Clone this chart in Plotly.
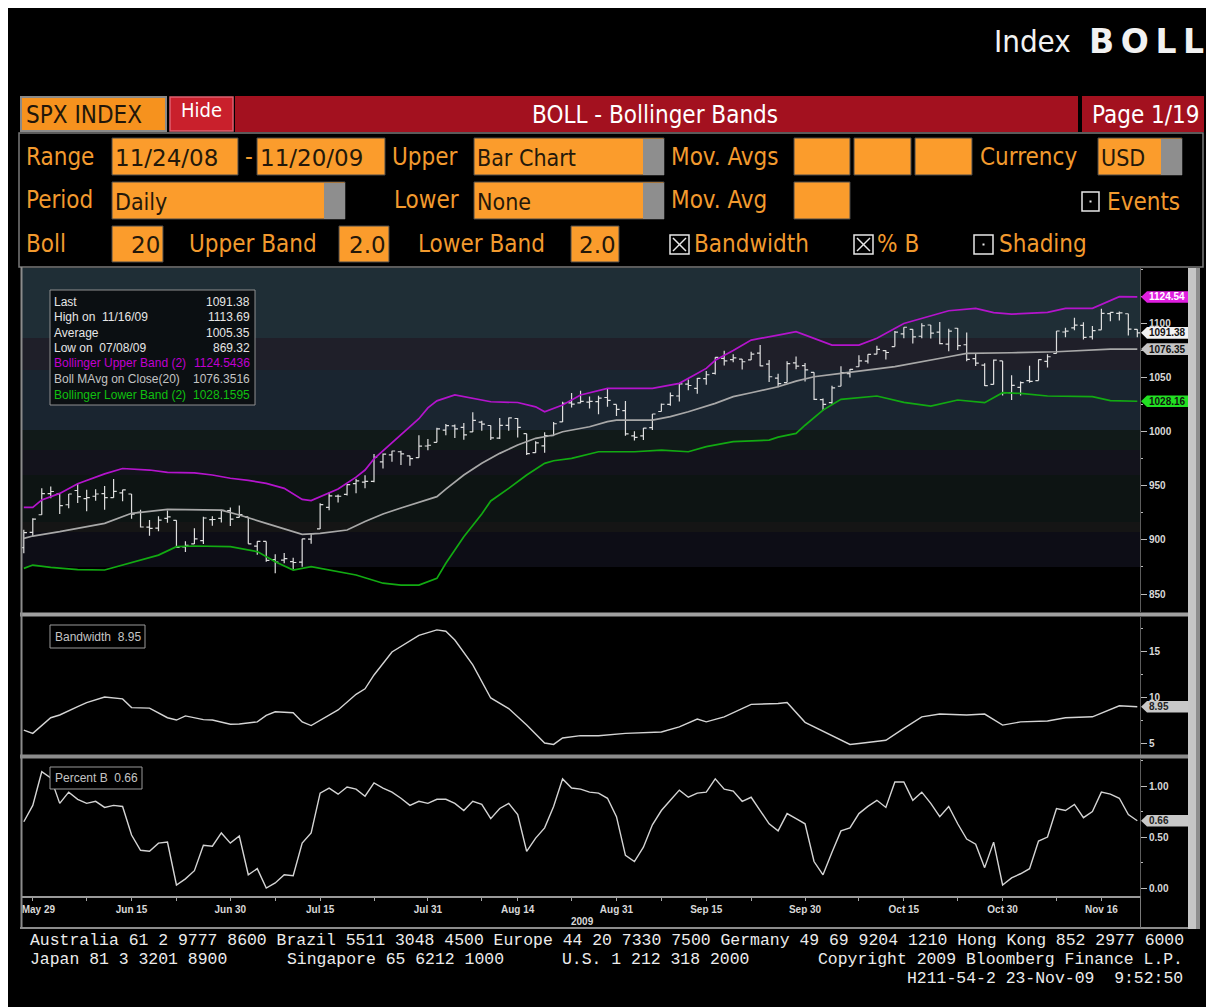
import plotly.graph_objects as go
import pandas as pd

# The page is shown with the browser's default 8px body margin, so the figure
# itself starts at (8, 8) of the 1214x1007 window.
OFF = 8
W, H = 1214 - OFF, 1007 - OFF

# ---------------- data ----------------
HOLIDAYS = ["2009-07-03", "2009-09-07"]
DATES = [d for d in pd.bdate_range("2009-05-28", "2009-11-20").strftime("%Y-%m-%d") if d not in HOLIDAYS]
BASE_DATE = "2009-05-29"

OPEN = [892.96, 907.02,
        923.26, 942.87, 942.51, 932.49, 945.67, 938.12, 940.35, 942.73, 939.04, 943.44, 942.45, 925.60, 911.89, 910.86, 919.96, 918.13, 893.46, 896.31, 899.45, 918.84, 919.86, 927.15,
        920.82, 921.24, 894.27, 898.60, 881.90, 881.28, 880.03, 879.57, 900.77, 910.15, 930.17, 940.56, 942.07, 951.97, 953.40, 954.07, 972.16, 978.63, 981.48, 977.66, 976.01, 986.80,
        990.22, 1001.41, 1005.41, 1004.06, 999.83, 1008.89, 1005.77, 994.00, 1005.86, 1012.23, 998.18, 980.62, 986.88, 996.41, 1009.06, 1026.59, 1026.63, 1027.35, 1027.81, 1031.62, 1025.21,
        1019.52, 996.07, 996.12, 1003.84, 1018.67, 1025.36, 1032.99, 1043.92, 1040.15, 1049.03, 1053.99, 1067.87, 1066.60, 1067.14, 1066.35, 1072.69, 1062.56, 1049.48, 1045.38, 1063.69, 1061.02,
        1054.91, 1029.71, 1026.87, 1042.02, 1053.65, 1060.06, 1065.28, 1071.63, 1074.96, 1078.68, 1090.36, 1094.67, 1088.22, 1098.64, 1092.00, 1080.96, 1095.62, 1080.36, 1067.54, 1061.51, 1043.69, 1065.41,
        1036.18, 1040.92, 1047.30, 1047.30, 1064.95, 1072.31, 1092.16, 1096.04, 1098.31, 1087.59, 1094.13, 1109.22, 1109.44, 1109.03, 1094.66]
HIGH = [909.45, 920.02,
        947.77, 949.38, 942.51, 942.47, 951.69, 946.33, 946.92, 949.77, 956.23, 946.30, 942.45, 928.00, 918.44, 921.93, 927.09, 918.13, 898.69, 910.85, 921.42, 922.00, 927.99, 930.01,
        931.92, 921.24, 898.72, 898.60, 886.80, 887.86, 883.57, 901.05, 905.84, 933.95, 943.96, 941.89, 951.62, 956.53, 959.83, 979.42, 979.79, 982.49, 982.35, 977.76, 996.68, 993.18,
        1003.61, 1007.12, 1006.64, 1008.00, 1018.00, 1010.12, 1005.77, 1012.78, 1013.14, 1012.60, 998.18, 991.20, 999.61, 1008.92, 1027.59, 1035.82, 1037.75, 1032.47, 1033.33, 1039.47, 1025.21,
        1028.45, 1000.34, 1003.43, 1016.48, 1026.07, 1036.34, 1044.14, 1048.18, 1049.74, 1056.04, 1068.76, 1074.77, 1071.52, 1067.28, 1073.81, 1080.15, 1066.29, 1053.47, 1065.13, 1069.62, 1063.40,
        1054.91, 1030.60, 1042.58, 1060.55, 1058.02, 1070.67, 1071.51, 1079.46, 1075.30, 1093.17, 1096.56, 1094.67, 1100.17, 1098.64, 1101.36, 1095.21, 1095.83, 1091.75, 1072.48, 1063.26, 1066.83, 1065.41,
        1052.18, 1046.36, 1061.00, 1066.65, 1071.48, 1093.19, 1096.09, 1105.37, 1101.17, 1097.63, 1113.69, 1110.32, 1111.10, 1109.03, 1094.66]
LOW = [887.60, 903.56,
       923.26, 938.46, 923.85, 929.32, 934.13, 926.44, 936.15, 927.97, 939.04, 935.66, 919.65, 911.60, 903.78, 907.94, 915.80, 893.04, 888.86, 896.31, 896.27, 913.03, 916.18, 912.86,
       920.82, 896.42, 886.36, 879.93, 869.32, 878.45, 872.81, 875.32, 896.50, 910.15, 927.45, 934.65, 940.99, 943.22, 947.75, 953.27, 965.95, 972.29, 969.35, 968.65, 976.01, 982.85,
       990.22, 996.68, 994.31, 992.49, 999.83, 1000.99, 992.40, 993.36, 1000.82, 994.60, 978.51, 980.62, 980.62, 996.39, 1009.06, 1022.48, 1026.21, 1021.57, 1016.20, 1023.13, 1014.62,
       996.28, 991.97, 992.25, 1001.65, 1018.67, 1023.97, 1028.04, 1038.40, 1035.00, 1043.42, 1052.87, 1061.20, 1064.27, 1057.46, 1066.35, 1060.39, 1045.85, 1041.17, 1045.38, 1057.83, 1046.47,
       1029.41, 1019.95, 1025.92, 1042.02, 1050.10, 1060.06, 1063.00, 1071.63, 1066.71, 1078.68, 1086.42, 1081.53, 1086.48, 1086.16, 1080.77, 1074.31, 1075.55, 1065.21, 1060.62, 1042.25, 1043.69, 1033.38,
       1029.38, 1033.38, 1045.15, 1047.30, 1059.32, 1072.31, 1087.40, 1093.81, 1085.13, 1085.33, 1094.13, 1102.19, 1102.70, 1088.93, 1087.28]
CLOSE = [906.83, 919.14,
         942.87, 944.74, 931.76, 942.46, 940.09, 939.14, 942.43, 939.15, 944.89, 946.21, 923.72, 911.97, 910.71, 918.37, 921.23, 893.04, 895.10, 900.94, 920.26, 918.90, 927.23, 919.32,
         923.33, 896.42, 898.72, 881.03, 879.56, 882.68, 879.13, 901.05, 905.84, 932.68, 940.74, 940.38, 951.13, 954.58, 954.07, 976.29, 979.26, 982.18, 979.62, 975.15, 986.75, 987.48,
         1002.63, 1005.65, 1002.72, 997.08, 1010.48, 1007.10, 994.35, 1005.81, 1012.73, 1004.09, 979.73, 989.67, 996.46, 1007.37, 1026.13, 1025.57, 1028.00, 1028.12, 1030.98, 1028.93, 1020.62,
         998.04, 994.75, 1003.24, 1016.40, 1025.39, 1033.37, 1044.14, 1042.73, 1049.34, 1052.63, 1068.76, 1065.49, 1068.30, 1064.66, 1071.66, 1060.87, 1050.78, 1044.38, 1062.98, 1060.61, 1057.08,
         1029.85, 1025.21, 1040.46, 1054.72, 1057.58, 1065.48, 1071.49, 1076.19, 1073.19, 1092.02, 1096.56, 1087.68, 1097.91, 1091.06, 1081.40, 1092.91, 1079.60, 1066.95, 1063.41, 1042.63, 1066.11, 1036.19,
         1042.88, 1045.41, 1046.50, 1066.63, 1069.30, 1093.08, 1093.01, 1098.51, 1087.24, 1093.48, 1109.30, 1110.32, 1109.80, 1094.90, 1091.38]

# Bollinger band lines: trading-day number (0 = 2009-05-29) and value
UPPER_DAY = [-1, 0, 1, 3, 5, 8, 10, 13, 15, 18, 20, 22, 24, 26, 28, 30, 31, 32, 34, 36, 37, 38, 40, 41, 43, 44, 45, 47, 49, 51, 54, 56, 57, 59, 61, 64, 69, 72, 75, 76, 78, 80, 83, 85, 87, 89, 92, 94, 97, 100, 102, 105, 107, 109, 113, 115, 118, 121, 123]
UPPER_VAL = [930.0, 930.0, 937.0, 943.0, 952.0, 961.0, 966.0, 964.6, 962.5, 962.0, 960.0, 957.0, 955.0, 952.3, 947.7, 937.5, 936.3, 940.0, 947.0, 958.0, 964.6, 975.0, 990.0, 997.0, 1012.0, 1022.0, 1028.5, 1034.0, 1031.0, 1027.7, 1027.0, 1023.0, 1018.5, 1024.7, 1034.0, 1040.0, 1040.0, 1044.7, 1058.5, 1066.0, 1075.0, 1084.7, 1089.3, 1092.4, 1086.3, 1080.1, 1080.1, 1086.3, 1100.0, 1107.0, 1111.8, 1114.0, 1110.0, 1108.7, 1110.3, 1114.0, 1114.0, 1124.8, 1124.54]
MAVG_DAY = [-1, 0, 3, 8, 11, 15, 21, 23, 26, 30, 32, 35, 37, 39, 41, 43, 45, 46, 48, 50, 52, 54, 56, 58, 59, 62, 64, 65, 69, 71, 73, 76, 78, 80, 83, 85, 87, 90, 96, 102, 104, 109, 114, 120, 123]
MAVG_VAL = [901.5, 903.6, 907.6, 915.3, 924.6, 928.3, 927.6, 923.0, 915.3, 905.2, 906.1, 909.2, 917.0, 924.0, 929.5, 935.0, 940.0, 947.0, 960.0, 970.8, 980.0, 987.7, 993.9, 997.0, 1000.0, 1004.6, 1009.3, 1010.8, 1010.8, 1014.0, 1018.5, 1026.2, 1032.4, 1036.0, 1041.6, 1046.8, 1050.8, 1053.9, 1060.1, 1069.3, 1072.4, 1073.0, 1073.9, 1076.4, 1076.35]
LOWER_DAY = [-1, 0, 2, 5, 8, 10, 14, 16, 18, 22, 25, 27, 29, 31, 33, 36, 39, 41, 43, 45, 46, 48, 50, 51, 53, 55, 57, 58, 60, 63, 67, 70, 73, 75, 78, 82, 83, 85, 86, 88, 90, 94, 97, 100, 103, 106, 108, 110, 113, 118, 120, 123]
LOWER_VAL = [873.7, 876.8, 874.7, 872.5, 872.2, 876.8, 886.0, 893.8, 894.4, 893.8, 889.2, 879.9, 872.2, 875.3, 872.0, 867.6, 860.0, 858.3, 858.3, 864.5, 878.4, 903.0, 924.0, 936.0, 947.7, 960.0, 970.8, 973.2, 975.4, 981.5, 981.5, 983.0, 981.5, 986.2, 990.8, 992.3, 995.0, 998.5, 1006.0, 1020.0, 1029.9, 1033.0, 1027.1, 1023.7, 1029.3, 1026.8, 1036.1, 1035.4, 1033.0, 1032.4, 1028.7, 1028.16]

# Bandwidth panel
BW_DAY = [-1, 0, 2, 3, 5, 6, 8, 10, 11, 13, 15, 16, 17, 19, 20, 22, 23, 25, 26, 27, 29, 30, 31, 34, 36, 37, 38, 40, 43, 45, 46, 47, 49, 51, 53, 55, 57, 58, 59, 61, 63, 66, 70, 72, 74, 75, 77, 80, 83, 84, 86, 89, 91, 92, 95, 97, 99, 101, 104, 106, 108, 110, 113, 115, 118, 121, 123]
BW_VAL = [6.4, 6.05, 7.75, 8.05, 8.95, 9.4, 10.0, 9.8, 8.85, 8.8, 7.75, 7.5, 7.95, 7.55, 7.5, 7.05, 7.07, 7.3, 8.0, 8.4, 8.3, 7.3, 6.9, 8.6, 10.3, 10.9, 12.4, 14.9, 16.7, 17.3, 17.15, 16.2, 13.5, 9.9, 8.75, 6.95, 5.0, 4.85, 5.55, 5.8, 5.8, 6.05, 6.2, 6.75, 7.6, 7.3, 7.85, 9.2, 9.3, 9.4, 7.25, 5.8, 4.85, 4.95, 5.3, 6.6, 7.85, 8.15, 8.05, 8.15, 6.95, 7.3, 7.4, 7.75, 7.85, 9.05, 8.95]

# Percent B, one value per trading day (2009-05-28 .. 2009-11-20)
PCTB = [0.65, 0.81, 1.14, 1.08, 0.83, 0.94, 0.87, 0.83, 0.85, 0.79, 0.81, 0.80, 0.52, 0.37, 0.36, 0.44, 0.45, 0.03, 0.09, 0.17, 0.42, 0.41, 0.54, 0.44, 0.51,
        0.13, 0.19, 0.00, 0.05, 0.13, 0.12, 0.44, 0.54, 0.93, 0.98, 0.92, 0.99, 0.97, 0.90, 1.03, 0.98, 0.94, 0.88, 0.81, 0.85, 0.83,
        0.87, 0.87, 0.83, 0.76, 0.85, 0.82, 0.68, 0.78, 0.83, 0.72, 0.36, 0.49, 0.59, 0.80, 1.07, 0.98, 0.97, 0.94, 0.93, 0.88, 0.70,
        0.32, 0.26, 0.40, 0.62, 0.76, 0.86, 0.96, 0.89, 0.93, 0.94, 1.07, 0.97, 0.95, 0.85, 0.89, 0.76, 0.63, 0.56, 0.73, 0.68, 0.63,
        0.26, 0.13, 0.35, 0.56, 0.59, 0.73, 0.80, 0.86, 0.79, 1.04, 1.04, 0.86, 0.94, 0.83, 0.70, 0.80, 0.63, 0.48, 0.43, 0.20, 0.45, 0.03,
        0.10, 0.14, 0.19, 0.46, 0.50, 0.78, 0.76, 0.82, 0.69, 0.75, 0.94, 0.92, 0.88, 0.72, 0.66]

XTICK_DATES = ["2009-05-29", "2009-06-15", "2009-06-30", "2009-07-15", "2009-07-31", "2009-08-14",
               "2009-08-31", "2009-09-15", "2009-09-30", "2009-10-15", "2009-10-30", "2009-11-16"]
XTICK_TEXT = ["\u00a0\u00a0\u00a0\u00a0May 29", "Jun 15", "Jun 30", "Jul 15", "Jul 31", "Aug 14",
              "Aug 31", "Sep 15", "Sep 30", "Oct 15", "Oct 30", "Nov 16"]
XMINOR_DATES = ["2009-06-08", "2009-06-22", "2009-07-08", "2009-07-23", "2009-08-10", "2009-08-24",
                "2009-09-08", "2009-09-22", "2009-10-08", "2009-10-23", "2009-11-09"]
MAIN_TICKS = [850, 900, 950, 1000, 1050, 1100]
BW_TICKS = [5, 10, 15]
PB_TICKS = [0.0, 0.5, 1.0]

INFO_LABELS = ["Last", "High on\u00a0\u00a011/16/09", "Average", "Low on\u00a0\u00a007/08/09",
               "Bollinger Upper Band (2)", "Boll MAvg on Close(20)", "Bollinger Lower Band (2)"]
INFO_VALUES = ["1091.38", "1113.69", "1005.35", "869.32", "1124.5436", "1076.3516", "1028.1595"]

FOOTER_1 = "Australia 61 2 9777 8600 Brazil 5511 3048 4500 Europe 44 20 7330 7500 Germany 49 69 9204 1210 Hong Kong 852 2977 6000"
FOOTER_2 = ["Japan 81 3 3201 8900", "Singapore 65 6212 1000", "U.S. 1 212 318 2000", "Copyright 2009 Bloomberg Finance L.P."]
FOOTER_3 = "H211-54-2 23-Nov-09\u00a0\u00a09:52:50"

# ---------------- helpers ----------------
base = DATES.index(BASE_DATE)
DAY = [i - base for i in range(len(DATES))]
def day_of(d):
    return DATES.index(d) - base

HDR = "DejaVu Sans Condensed, DejaVu Sans, sans-serif"
DJ = "DejaVu Sans, sans-serif"
ARIAL = "Liberation Sans, Arial, sans-serif"
MONO = "Liberation Mono, DejaVu Sans Mono, monospace"

ORANGE_TXT = "#f29a2e"
FIELD = "#fb9c2c"
FIELD_TXT = "#24180a"

shapes, annos = [], []
def X(px):   # screen pixel -> paper
    return (px - OFF) / W
def Y(py):
    return 1 - (py - OFF) / H

def rect(x0, y0, x1, y1, fill, line=None, lw=0, layer="above"):
    shapes.append(dict(type="rect", xref="paper", yref="paper", x0=X(x0), x1=X(x1), y0=Y(y1), y1=Y(y0),
                       fillcolor=fill, line=dict(color=line if line else fill, width=lw), layer=layer))

def seg(x0, y0, x1, y1, color, w, layer="above"):
    shapes.append(dict(type="line", xref="paper", yref="paper", x0=X(x0), x1=X(x1), y0=Y(y0), y1=Y(y1),
                       line=dict(color=color, width=w), layer=layer))

def txt(x, y, s, size, color, family, anchor="left", weight="normal"):
    annos.append(dict(xref="paper", yref="paper", x=X(x), y=Y(y), text=s, showarrow=False,
                      xanchor=anchor, yanchor="middle", borderpad=0,
                      font=dict(size=size, color=color, family=family, weight=weight)))

def field(x0, x1, y0, y1, s=None, right=False, gray=None, fam=HDR, size=23):
    rect(x0, y0, x1, y1, FIELD, "#4a4a4a", 1)
    if gray:
        rect(gray, y0 + 1, x1, y1, "#8e8e8e")
    if s:
        if right:
            txt(x1 - 2, (y0 + y1) / 2 + 1, s, size, FIELD_TXT, fam, anchor="right")
        else:
            txt(x0 + 2, (y0 + y1) / 2 + 1, s, size, FIELD_TXT, fam)

def checkbox(x0, y0, x1, y1, checked):
    rect(x0, y0, x1, y1, "black", "#e8e8e8", 1.5)
    if checked:
        seg(x0 + 3, y0 + 3, x1 - 3, y1 - 3, "#e8e8e8", 1.5)
        seg(x1 - 3, y0 + 3, x0 + 3, y1 - 3, "#e8e8e8", 1.5)
    else:
        cx, cy = (x0 + x1) / 2, (y0 + y1) / 2
        rect(cx - 1, cy - 1, cx + 1, cy + 1, "#e8e8e8")

def tag(yref, v, label, bg, fg, upx):
    h = 5.8 / upx
    path = (f"M {X(1141)},{v} L {X(1147)},{v + h} L {X(1188)},{v + h} "
            f"L {X(1188)},{v - h} L {X(1147)},{v - h} Z")
    shapes.append(dict(type="path", xref="paper", yref=yref, path=path, fillcolor=bg,
                       line=dict(color=bg, width=0), layer="above"))
    annos.append(dict(xref="paper", yref=yref, x=X(1148), y=v, text=label, showarrow=False,
                      xanchor="left", yanchor="middle", borderpad=0,
                      font=dict(size=10, color=fg, family=ARIAL, weight="bold")))

# ---------------- page chrome ----------------
txt(1072, 41, "Index", 31, "#f2f2f2", HDR, anchor="right")
txt(1205, 41, "B\u2009O\u2009L\u2009L", 33, "#f2f2f2", DJ, anchor="right", weight="bold")

# red title row
rect(235, 96, 1078, 132, "#a3111f")
rect(1082, 96, 1204, 132, "#a3111f")
rect(21, 97, 166, 131, "#f6921e", "#8a8a8a", 2)
txt(25, 115, "SPX INDEX", 24, "#22160a", HDR)
rect(170, 97, 233, 131, "#c9202c", "#e06070", 1.5)
txt(201, 110, "Hide", 20, "white", HDR, anchor="center")
txt(655, 115, "BOLL - Bollinger Bands", 24, "white", HDR, anchor="center")
txt(1201, 115, "Page 1/19", 24, "white", HDR, anchor="right")

# settings panel
rect(19, 133, 1203, 267, "black", "#7a7a7a", 1.5)
r1, r2, r3 = 157, 200, 244
txt(25, r1, "Range", 24, ORANGE_TXT, HDR)
field(112, 238, 138, 175, "11/24/08", fam=DJ, size=23)
txt(244, r1, "-", 24, ORANGE_TXT, HDR)
field(257, 385, 138, 175, "11/20/09", fam=DJ, size=23)
txt(391, r1, "Upper", 24, ORANGE_TXT, HDR)
field(474, 664, 138, 175, "Bar Chart", gray=643)
txt(670, r1, "Mov. Avgs", 24, ORANGE_TXT, HDR)
field(794, 850, 138, 175)
field(854, 911, 138, 175)
field(915, 972, 138, 175)
txt(979, r1, "Currency", 24, ORANGE_TXT, HDR)
field(1098, 1182, 138, 175, "USD", gray=1161)

txt(25, r2, "Period", 24, ORANGE_TXT, HDR)
field(112, 345, 182, 219, "Daily", gray=324)
txt(393, r2, "Lower", 24, ORANGE_TXT, HDR)
field(474, 664, 182, 219, "None", gray=643)
txt(670, r2, "Mov. Avg", 24, ORANGE_TXT, HDR)
field(794, 850, 182, 219)
checkbox(1082, 192, 1099, 211, False)
txt(1106, r2 + 2, "Events", 24, ORANGE_TXT, HDR)

txt(25, r3, "Boll", 24, ORANGE_TXT, HDR)
field(112, 163, 226, 262, "20", right=True, fam=DJ)
txt(188, r3, "Upper Band", 24, ORANGE_TXT, HDR)
field(339, 389, 226, 262, "2.0", right=True, fam=DJ)
txt(417, r3, "Lower Band", 24, ORANGE_TXT, HDR)
field(571, 619, 226, 262, "2.0", right=True, fam=DJ)
checkbox(670, 235, 689, 254, True)
txt(693, r3, "Bandwidth", 24, ORANGE_TXT, HDR)
checkbox(854, 235, 873, 254, True)
txt(876, r3, "% B", 24, ORANGE_TXT, HDR)
checkbox(974, 235, 993, 254, False)
txt(998, r3, "Shading", 24, ORANGE_TXT, HDR)

# ---------------- chart frame / backgrounds ----------------
BANDS = [(268, 338, "#1f2e36"), (338, 370, "#1f1f29"), (370, 430, "#1a2530"), (430, 450, "#111a19"),
         (450, 475, "#13131c"), (475, 522, "#0d1413"), (522, 532, "#151515"), (532, 567, "#0d0d16"),
         (567, 612, "#000000")]
for y0, y1, c in BANDS:
    rect(22, y0, 1140, y1, c, layer="below")

rect(20, 612.5, 1188, 616.5, "#a0a0a0")
rect(20, 754.5, 1188, 758.5, "#8c8c8c")
seg(21.5, 267, 21.5, 928, "#8c8c8c", 2)
seg(20, 928, 1188, 928, "#8c8c8c", 2)
seg(1140.5, 896, 1140.5, 928, "#7a7a7a", 1)
rect(1188, 268, 1200, 929, "#c6c6c6")
rect(1196, 268, 1200, 929, "#8e8e8e")

# info boxes
rect(50, 290, 255, 405, "#0b0f12", "#8f8f8f", 1)
info_colors = ["#e6e6e6", "#e6e6e6", "#e6e6e6", "#e6e6e6", "#c000d0", "#c4c4c4", "#10c010"]
for k, (lab, val, col) in enumerate(zip(INFO_LABELS, INFO_VALUES, info_colors)):
    yy = 301.5 + k * 15.5
    txt(53, yy, lab, 12, col, ARIAL)
    txt(251, yy, val, 12, col, ARIAL, anchor="right")

rect(50, 625, 145, 648, "black", "#9a9a9a", 1)
txt(54, 636.5, f"Bandwidth\u00a0\u00a0{BW_VAL[-1]:.2f}", 12, "#c4c4c4", ARIAL)
rect(50, 767, 142, 789, "black", "#9a9a9a", 1)
txt(54, 778, f"Percent B\u00a0\u00a0{PCTB[-1]:.2f}", 12, "#c4c4c4", ARIAL)

txt(582, 921, "2009", 10, "#d8d8d8", ARIAL, anchor="center", weight="bold")

# footer
FS = 16.45
txt(29, 940, FOOTER_1, FS, "#ececec", MONO)
txt(29, 959, FOOTER_2[0], FS, "#ececec", MONO)
txt(286, 959, FOOTER_2[1], FS, "#ececec", MONO)
txt(561, 959, FOOTER_2[2], FS, "#ececec", MONO)
txt(1184, 959, FOOTER_2[3], FS, "#ececec", MONO, anchor="right")
txt(1184, 978, FOOTER_3, FS, "#ececec", MONO, anchor="right")

# ---------------- axes ranges ----------------
MAIN_RANGE = [833.4, 1151.3]
BW_RANGE = [3.7, 18.7]
PB_RANGE = [-0.078, 1.265]
MAIN_DOM = [Y(612), Y(268)]
BW_DOM = [Y(755), Y(617)]
PB_DOM = [Y(896), Y(759)]
upx_main = (612 - 268) / (MAIN_RANGE[1] - MAIN_RANGE[0])
upx_bw = (755 - 617) / (BW_RANGE[1] - BW_RANGE[0])
upx_pb = (896 - 759) / (PB_RANGE[1] - PB_RANGE[0])

# right-hand value tags
tag("y", UPPER_VAL[-1], f"{UPPER_VAL[-1]:.2f}", "#e01ee0", "white", upx_main)
tag("y", CLOSE[-1], f"{CLOSE[-1]:.2f}", "#f2f2f2", "#111111", upx_main)
tag("y", MAVG_VAL[-1], f"{MAVG_VAL[-1]:.2f}", "#c4c4c4", "#111111", upx_main)
tag("y", LOWER_VAL[-1], f"{LOWER_VAL[-1]:.2f}", "#22e022", "#111111", upx_main)
tag("y2", BW_VAL[-1], f"{BW_VAL[-1]:.2f}", "#c8c8c8", "#222222", upx_bw)
tag("y3", PCTB[-1], f"{PCTB[-1]:.2f}", "#c8c8c8", "#222222", upx_pb)

# ---------------- traces ----------------
fig = go.Figure()
fig.add_trace(go.Ohlc(x=DAY, open=OPEN, high=HIGH, low=LOW, close=CLOSE,
                      increasing=dict(line=dict(color="#dedede", width=1.2)),
                      decreasing=dict(line=dict(color="#dedede", width=1.2)),
                      tickwidth=0.35, hoverinfo="skip", xaxis="x", yaxis="y"))
fig.add_trace(go.Scatter(x=UPPER_DAY, y=UPPER_VAL, mode="lines", line=dict(color="#b414cc", width=1.7),
                         xaxis="x", yaxis="y", hoverinfo="skip"))
fig.add_trace(go.Scatter(x=MAVG_DAY, y=MAVG_VAL, mode="lines", line=dict(color="#a8a8a8", width=1.7),
                         xaxis="x", yaxis="y", hoverinfo="skip"))
fig.add_trace(go.Scatter(x=LOWER_DAY, y=LOWER_VAL, mode="lines", line=dict(color="#12aa12", width=1.7),
                         xaxis="x", yaxis="y", hoverinfo="skip"))
fig.add_trace(go.Scatter(x=BW_DAY, y=BW_VAL, mode="lines", line=dict(color="#d4d4d4", width=1.4),
                         xaxis="x2", yaxis="y2", hoverinfo="skip"))
fig.add_trace(go.Scatter(x=DAY, y=PCTB, mode="lines", line=dict(color="#d4d4d4", width=1.4),
                         xaxis="x3", yaxis="y3", hoverinfo="skip"))

XR = [-1.2, 123.3]
XD = [X(22), X(1140)]
tickfont = dict(size=10, color="#d8d8d8", family=ARIAL, weight="bold")
def xax(anchor, **kw):
    d = dict(domain=XD, range=XR, anchor=anchor, showgrid=False, zeroline=False, fixedrange=True,
             showticklabels=False, ticks="", showline=False, rangeslider=dict(visible=False))
    d.update(kw)
    return d
def yax(anchor, dom, rng, tv, minor_dtick, fmt=None):
    d = dict(domain=dom, range=rng, anchor=anchor, side="right", showgrid=False, zeroline=False,
             fixedrange=True, tickvals=tv, ticks="outside", ticklen=6, tickwidth=1, tickcolor="#bdbdbd",
             tickfont=tickfont, showline=True, linecolor="#5c5c5c", linewidth=1,
             minor=dict(dtick=minor_dtick, ticks="outside", ticklen=2, tickwidth=1, tickcolor="#bdbdbd"))
    if fmt:
        d["tickformat"] = fmt
    return d

fig.update_layout(
    template="none", width=W, height=H, margin=dict(l=0, r=0, t=0, b=0),
    paper_bgcolor="black", plot_bgcolor="rgba(0,0,0,0)", showlegend=False,
    shapes=shapes, annotations=annos,
    xaxis=xax("y"),
    xaxis2=xax("y2"),
    xaxis3=xax("y3", showticklabels=True, ticks="outside", ticklen=3, tickcolor="#a8a8a8",
               tickvals=[day_of(d) for d in XTICK_DATES], ticktext=XTICK_TEXT, tickfont=tickfont,
               showline=True, linecolor="#9a9a9a", linewidth=1.5,
               minor=dict(tickvals=[day_of(d) for d in XMINOR_DATES], ticks="outside", ticklen=3,
                          tickcolor="#a8a8a8")),
    yaxis=yax("x", MAIN_DOM, MAIN_RANGE, MAIN_TICKS, 25),
    yaxis2=yax("x2", BW_DOM, BW_RANGE, BW_TICKS, 2.5),
    yaxis3=yax("x3", PB_DOM, PB_RANGE, PB_TICKS, 0.25, fmt=".2f"),
)

fig.write_html("out.html")
